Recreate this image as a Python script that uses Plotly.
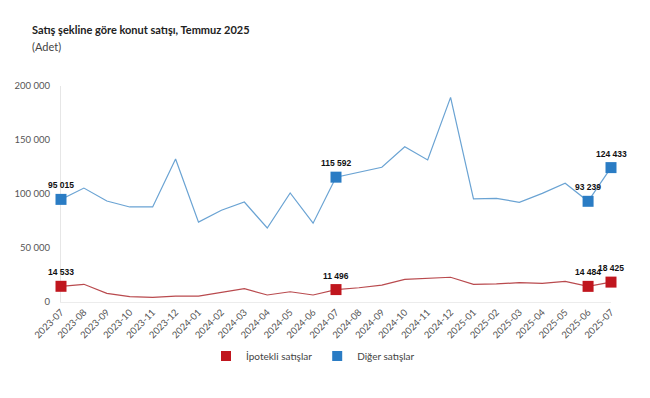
import plotly.graph_objects as go

months = ["2023-07","2023-08","2023-09","2023-10","2023-11","2023-12",
          "2024-01","2024-02","2024-03","2024-04","2024-05","2024-06",
          "2024-07","2024-08","2024-09","2024-10","2024-11","2024-12",
          "2025-01","2025-02","2025-03","2025-04","2025-05","2025-06","2025-07"]

ipotekli = [14533, 16400, 8000, 4900, 4300, 5500, 5500, 8600, 12300, 6500, 9500, 6500,
            11496, 13200, 15700, 21000, 21600, 22900, 16400, 16700, 17900, 17300, 19100,
            14484, 18425]

diger = [95015, 105500, 93500, 88000, 88000, 132400, 74000, 85000, 92600, 68500, 101000, 73000,
         115592, 120000, 124700, 143800, 131500, 189500, 95400, 96000, 92300, 100600, 109900,
         93239, 124433]

highlight_idx = [0, 12, 23, 24]

series_names = ["İpotekli satışlar", "Diğer satışlar"]
yticks = [0, 50000, 100000, 150000, 200000]

RED_LINE = "#b94a4e"
RED_MARK = "#c0161e"
BLUE_LINE = "#6aa3d3"
BLUE_MARK = "#2a7cc4"

# page body has an 8px default margin -> figure is drawn offset by 8px
W, H = 642, 390
ML, MR, MT, MB = 53, 39, 78, 96
PW, PH = W - ML - MR, H - MT - MB
FONT = "Lato"

fig = go.Figure()

def fmt(v):
    return f"{v:,}".replace(",", " ")

for vals, lc, mc, name in [(ipotekli, RED_LINE, RED_MARK, series_names[0]),
                           (diger, BLUE_LINE, BLUE_MARK, series_names[1])]:
    fig.add_trace(go.Scatter(x=months, y=vals, mode="lines",
                             line=dict(color=lc, width=1.2),
                             showlegend=False, hoverinfo="skip"))
    hx = [months[i] for i in highlight_idx]
    hy = [vals[i] for i in highlight_idx]
    fig.add_trace(go.Scatter(x=hx, y=hy, mode="markers",
                             marker=dict(symbol="square", size=11, color=mc),
                             cliponaxis=False, showlegend=False))
    for xv, yv in zip(hx, hy):
        fig.add_annotation(x=xv, y=yv, text=fmt(yv), showarrow=False,
                           yshift=14, xanchor="center", yanchor="middle",
                           font=dict(family="Liberation Sans", size=8.5, color="#111111", weight="bold"))
    fig.add_trace(go.Scatter(x=[None], y=[None], mode="markers", name=name,
                             marker=dict(symbol="square", size=10, color=mc)))

fig.update_layout(
    width=W, height=H,
    margin=dict(l=ML, r=MR, t=MT, b=MB),
    paper_bgcolor="white", plot_bgcolor="white",
    separators=", ",
    font=dict(family=FONT, size=9.5, color="#555555"),
    showlegend=True,
    legend=dict(orientation="h", x=(313 - 8 - ML) / PW, xanchor="center",
                y=(294 - 348) / PH, yanchor="middle",
                font=dict(family=FONT, size=10, color="#444444"),
                itemwidth=30, tracegroupgap=0),
)

fig.add_annotation(text="<b>Satış şekline göre konut satışı, Temmuz 2025</b>",
                   xref="paper", yref="paper",
                   x=(22 - ML) / PW, y=(294 - 22) / PH, xanchor="left", yanchor="middle",
                   showarrow=False, font=dict(family=FONT, size=11, color="#222222"))
fig.add_annotation(text="(Adet)", xref="paper", yref="paper",
                   x=(22 - ML) / PW, y=(294 - 39) / PH, xanchor="left", yanchor="middle",
                   showarrow=False, font=dict(family=FONT, size=11, color="#444444"))

fig.update_xaxes(type="category", range=[0, 24], tickangle=-45, automargin=False,
                 showline=True, linecolor="#ececec", linewidth=1, layer="below traces",
                 showgrid=False, ticks="", tickfont=dict(size=9.5, color="#555555"),
                 zeroline=False)
fig.update_yaxes(range=[0, 200000], tickvals=yticks, tickformat=",d", automargin=False,
                 showgrid=False, zeroline=False, showline=True, linecolor="#e6e6e6",
                 layer="below traces",
                 ticks="", ticklabelstandoff=8, tickfont=dict(size=9.5, color="#555555"))

fig.write_html("out.html")
